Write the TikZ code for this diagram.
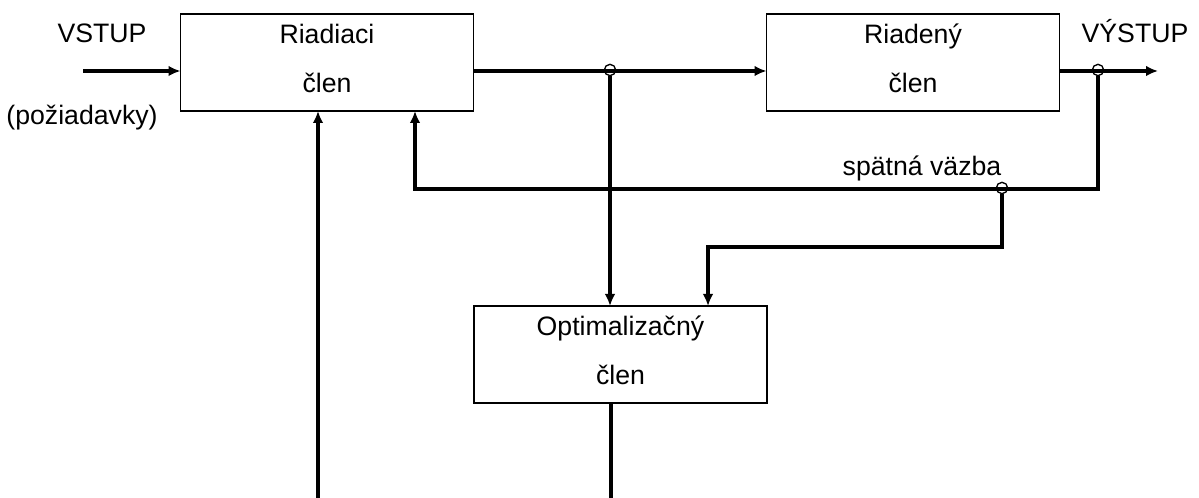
\documentclass[tikz,border=0pt]{standalone}
\usepackage{fontspec}
\setmainfont{Liberation Sans}
\usetikzlibrary{arrows.meta,positioning}

\begin{document}
\begin{tikzpicture}[x=0.75pt,y=-0.75pt,on grid,
    >={Latex[length=9pt,width=8pt]},
    font=\fontsize{20}{36.75}\selectfont,
    block/.style={draw,line width=1pt,minimum width=219.75pt,minimum height=72.75pt,
                  inner sep=0pt,outer sep=0pt,align=center,text depth=6pt},
    signal/.style={line width=2.8pt},
    junction/.style={circle,draw,line width=1pt,minimum size=8.5pt,inner sep=0pt},
    txt/.style={anchor=base}]
    \useasboundingbox (0,0) rectangle (1199,498);
    \node[block] (riadiaci) at (327,62.5)                            {Riadiaci\\člen};
    \node[block] (riadeny)  [right=439.5pt of riadiaci]              {Riadený\\člen};
    \node[block] (optimal)  [below right=219pt and 220.1pt of riadiaci] {Optimalizačný\\člen};
    % texts
    \node[txt] (vstup)  at (102,43)  {VSTUP};
    \node[txt] (poziad) at (82,125)  {(požiadavky)};
    \node[txt] (vystup) at (1135,43) {VÝSTUP};
    \node[txt] (spatna) at (922,176) {spätná väzba};
    % junctions and free ends
    \node[junction] (j1) at (610,70)   {};
    \node[junction] (j2) at (1098,70)  {};
    \node[junction] (j3) at (1002,188) {};
    \coordinate (in)   at (83,71);
    \coordinate (out)  at (1158,71);
    \coordinate (fb)   at (415,189);
    \coordinate (opt2) at (708,247);
    \coordinate (bot1) at (318,498);
    \coordinate (bot2) at (611,498);
    % forward path
    \draw[signal,->] (in) -- (in -| riadiaci.west);
    \draw[signal,->] (in -| riadiaci.east) -- (in -| riadeny.west);
    \draw[signal,->] (in -| riadeny.east) -- (out);
    \draw[signal,->] (j1) -- (j1 |- optimal.north);
    % feedback
    \draw[signal,->] (j2) |- (fb) -- (fb |- riadiaci.south);
    \draw[signal,->] (j3) |- (opt2) -- (opt2 |- optimal.north);
    % bottom lines
    \draw[signal,->] (bot1) -- (bot1 |- riadiaci.south);
    \draw[signal] (bot2 |- optimal.south) -- (bot2);
\end{tikzpicture}
\end{document}
